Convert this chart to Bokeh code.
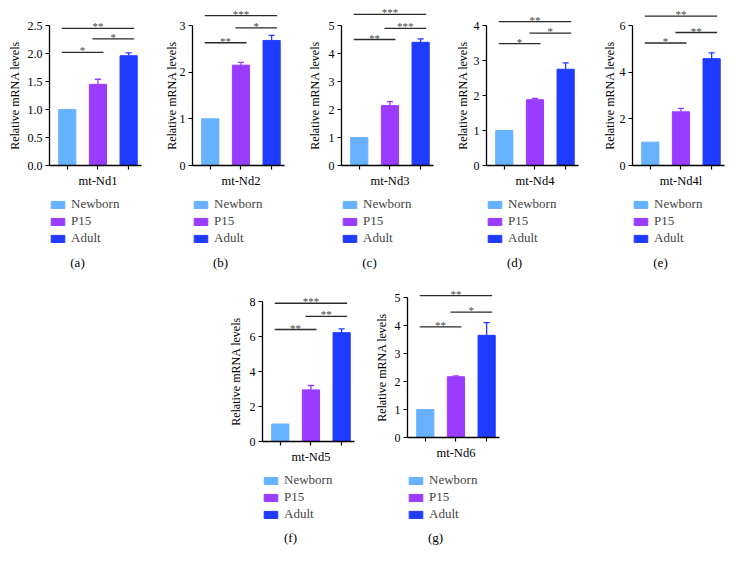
import math
from bokeh.plotting import figure
from bokeh.layouts import row, column, Spacer
from bokeh.models import (ColumnDataSource, Legend, LegendItem, Label, FixedTicker,
                          NumeralTickFormatter)
from bokeh.core.properties import value
from bokeh.embed import file_html
from bokeh.resources import INLINE

FONT = "Liberation Serif"

groups = ["Newborn", "P15", "Adult"]
colors = ["#66B2FF", "#9A3CFF", "#1F3BFF"]
pairs = [(0, 1), (1, 2), (0, 2)]

genes = ["mt-Nd1", "mt-Nd2", "mt-Nd3", "mt-Nd4", "mt-Nd4l", "mt-Nd5", "mt-Nd6"]
panel_tags = ["(a)", "(b)", "(c)", "(d)", "(e)", "(f)", "(g)"]
y_title = "Relative mRNA levels"

nd1_mean = [1.0, 1.45, 1.96]
nd1_err = [0.0, 0.09, 0.05]
nd1_ticks = [0.0, 0.5, 1.0, 1.5, 2.0, 2.5]
nd1_sig_y = [2.02, 2.26, 2.45]
nd1_sig = ["*", "*", "**"]

nd2_mean = [1.0, 2.15, 2.68]
nd2_err = [0.0, 0.06, 0.11]
nd2_ticks = [0, 1, 2, 3]
nd2_sig_y = [2.63, 2.95, 3.21]
nd2_sig = ["**", "*", "***"]

nd3_mean = [1.0, 2.14, 4.4]
nd3_err = [0.0, 0.14, 0.12]
nd3_ticks = [0, 1, 2, 3, 4, 5]
nd3_sig_y = [4.5, 4.9, 5.4]
nd3_sig = ["**", "***", "***"]

nd4_mean = [1.0, 1.88, 2.75]
nd4_err = [0.0, 0.04, 0.18]
nd4_ticks = [0, 1, 2, 3, 4]
nd4_sig_y = [3.48, 3.78, 4.11]
nd4_sig = ["*", "*", "**"]

nd4l_mean = [1.0, 2.3, 4.58]
nd4l_err = [0.0, 0.15, 0.25]
nd4l_ticks = [0, 2, 4, 6]
nd4l_sig_y = [5.25, 5.7, 6.4]
nd4l_sig = ["*", "**", "**"]

nd5_mean = [1.0, 2.95, 6.22]
nd5_err = [0.0, 0.25, 0.22]
nd5_ticks = [0, 2, 4, 6, 8]
nd5_sig_y = [6.4, 7.15, 7.9]
nd5_sig = ["**", "**", "***"]

nd6_mean = [1.0, 2.17, 3.65]
nd6_err = [0.0, 0.03, 0.45]
nd6_ticks = [0, 1, 2, 3, 4, 5]
nd6_sig_y = [3.95, 4.48, 5.07]
nd6_sig = ["**", "*", "**"]

AXIS_PX = 140      # pixel length of the y axis (0 .. top tick)
X0, X1 = -0.58, 2.42
FRAME_W = 92
PPX = FRAME_W / (X1 - X0)


def panel(gene, tag, mean, err, ticks, sig_y, sig, width, left, height, above_px,
          legend_y, tag_px, title_dx, fmt=None):
    below_px = height - above_px
    ppu = AXIS_PX / ticks[-1]
    right = width - left - FRAME_W
    y0 = -below_px / ppu
    p = figure(width=width, height=height,
               x_range=(X0 - left / PPX, X1 + right / PPX),
               y_range=(y0, above_px / ppu),
               output_backend="svg", toolbar_location=None,
               min_border_left=0, min_border_right=0,
               min_border_top=0, min_border_bottom=0)
    p.grid.visible = False
    p.outline_line_color = None
    p.background_fill_color = None
    p.border_fill_color = None

    xs = list(range(len(groups)))
    src = ColumnDataSource(dict(x=xs, top=mean, color=colors, group=groups))
    bars = p.vbar(x="x", top="top", width=0.56, source=src, fill_color="color",
                  line_color="color", line_width=1)

    ex = [x for x, e in zip(xs, err) if e > 0]
    ey0 = [m for m, e in zip(mean, err) if e > 0]
    ey1 = [m + e for m, e in zip(mean, err) if e > 0]
    ec = [c for c, e in zip(colors, err) if e > 0]
    esrc = ColumnDataSource(dict(x=ex, y0=ey0, y1=ey1, c=ec,
                                 xl=[x - 0.1 for x in ex], xr=[x + 0.1 for x in ex]))
    p.segment(x0="x", y0="y0", x1="x", y1="y1", source=esrc, line_color="c", line_width=1.3)
    p.segment(x0="xl", y0="y1", x1="xr", y1="y1", source=esrc, line_color="c", line_width=1.3)

    ssrc = ColumnDataSource(dict(
        x0=[a - 0.18 for a, b in pairs], x1=[b + 0.18 for a, b in pairs],
        xm=[(a + b) / 2 for a, b in pairs], y=sig_y, t=sig))
    p.segment(x0="x0", y0="y", x1="x1", y1="y", source=ssrc, line_color="#2a2a2a", line_width=1.3)
    p.text(x="xm", y="y", text="t", source=ssrc, text_font=value(FONT), text_font_size="11px",
           text_align="center", text_baseline="alphabetic", y_offset=-2, text_color="#444444")

    for ax in (p.xaxis[0], p.yaxis[0]):
        ax.axis_line_color = "black"
        ax.axis_line_width = 1.3
        ax.major_tick_line_color = "black"
        ax.major_tick_line_width = 1.2
        ax.major_tick_in = 0
        ax.major_tick_out = 4
        ax.minor_tick_line_color = None
        ax.major_label_text_font = FONT
        ax.major_label_text_color = "black"

    xa = p.xaxis[0]
    xa.fixed_location = 0
    xa.bounds = (X0, X1)
    xa.ticker = FixedTicker(ticks=xs)
    xa.major_label_text_font_size = "0px"
    xa.major_label_text_color = None
    xa.major_label_standoff = 0

    ya = p.yaxis[0]
    ya.fixed_location = X0
    ya.ticker = FixedTicker(ticks=ticks)
    if fmt:
        ya.formatter = NumeralTickFormatter(format=fmt)
    ya.bounds = (0, ticks[-1])
    ya.major_label_text_font_size = "12px"
    ya.major_label_standoff = 3

    # axis titles
    p.text(x=[X0 + title_dx / PPX], y=[ticks[-1] / 2], text=[y_title], angle=math.pi / 2,
           text_font=value(FONT), text_font_size="12px", text_align="center",
           text_baseline="middle", text_color="black")
    p.text(x=[1.0], y=[-15 / ppu], text=[gene], text_font=value(FONT), text_font_size="12.5px",
           text_align="center", text_baseline="middle", text_color="black")

    legend = Legend(items=[LegendItem(label=g, renderers=[bars], index=i) for i, g in enumerate(groups)],
                    location=(left, legend_y), orientation="vertical",
                    label_text_font=FONT, label_text_font_size="13px",
                    glyph_width=17, glyph_height=9, label_height=17, spacing=0,
                    padding=3, margin=0, label_standoff=5,
                    border_line_color=None, background_fill_alpha=0)
    p.add_layout(legend, "center")

    p.add_layout(Label(x=X0 + 28 / PPX, y=y0 + tag_px / ppu, text=tag, text_font=FONT,
                       text_font_size="13px", text_align="center", text_baseline="middle",
                       text_color="black"))
    return p


TOP_H = 274
BOT_H = 270

pa = panel(genes[0], panel_tags[0], nd1_mean, nd1_err, nd1_ticks, nd1_sig_y, nd1_sig,
           145, 42, TOP_H, 158, 34.5, 19, -35, fmt="0.0")
pb = panel(genes[1], panel_tags[1], nd2_mean, nd2_err, nd2_ticks, nd2_sig_y, nd2_sig,
           147, 40, TOP_H, 158, 34.5, 19, -21)
pc = panel(genes[2], panel_tags[2], nd3_mean, nd3_err, nd3_ticks, nd3_sig_y, nd3_sig,
           145, 42, TOP_H, 158, 34.5, 19, -27)
pd_ = panel(genes[3], panel_tags[3], nd4_mean, nd4_err, nd4_ticks, nd4_sig_y, nd4_sig,
            146, 42, TOP_H, 158, 34.5, 19, -24)
pe = panel(genes[4], panel_tags[4], nd4l_mean, nd4l_err, nd4l_ticks, nd4l_sig_y, nd4l_sig,
           136, 42, TOP_H, 158, 34.5, 19, -23)

pf = panel(genes[5], panel_tags[5], nd5_mean, nd5_err, nd5_ticks, nd5_sig_y, nd5_sig,
           145, 42, BOT_H, 160, 28.5, 14, -27)
pg = panel(genes[6], panel_tags[6], nd6_mean, nd6_err, nd6_ticks, nd6_sig_y, nd6_sig,
           145, 42, BOT_H, 156, 28.5, 14, -26)

SHIFT = 7
layout = column(Spacer(width=10, height=SHIFT),
                row(Spacer(width=SHIFT, height=TOP_H), pa, pb, pc, pd_, pe),
                row(Spacer(width=213 + SHIFT, height=BOT_H), pf, pg))

open("out.html", "w").write(file_html(layout, INLINE))
